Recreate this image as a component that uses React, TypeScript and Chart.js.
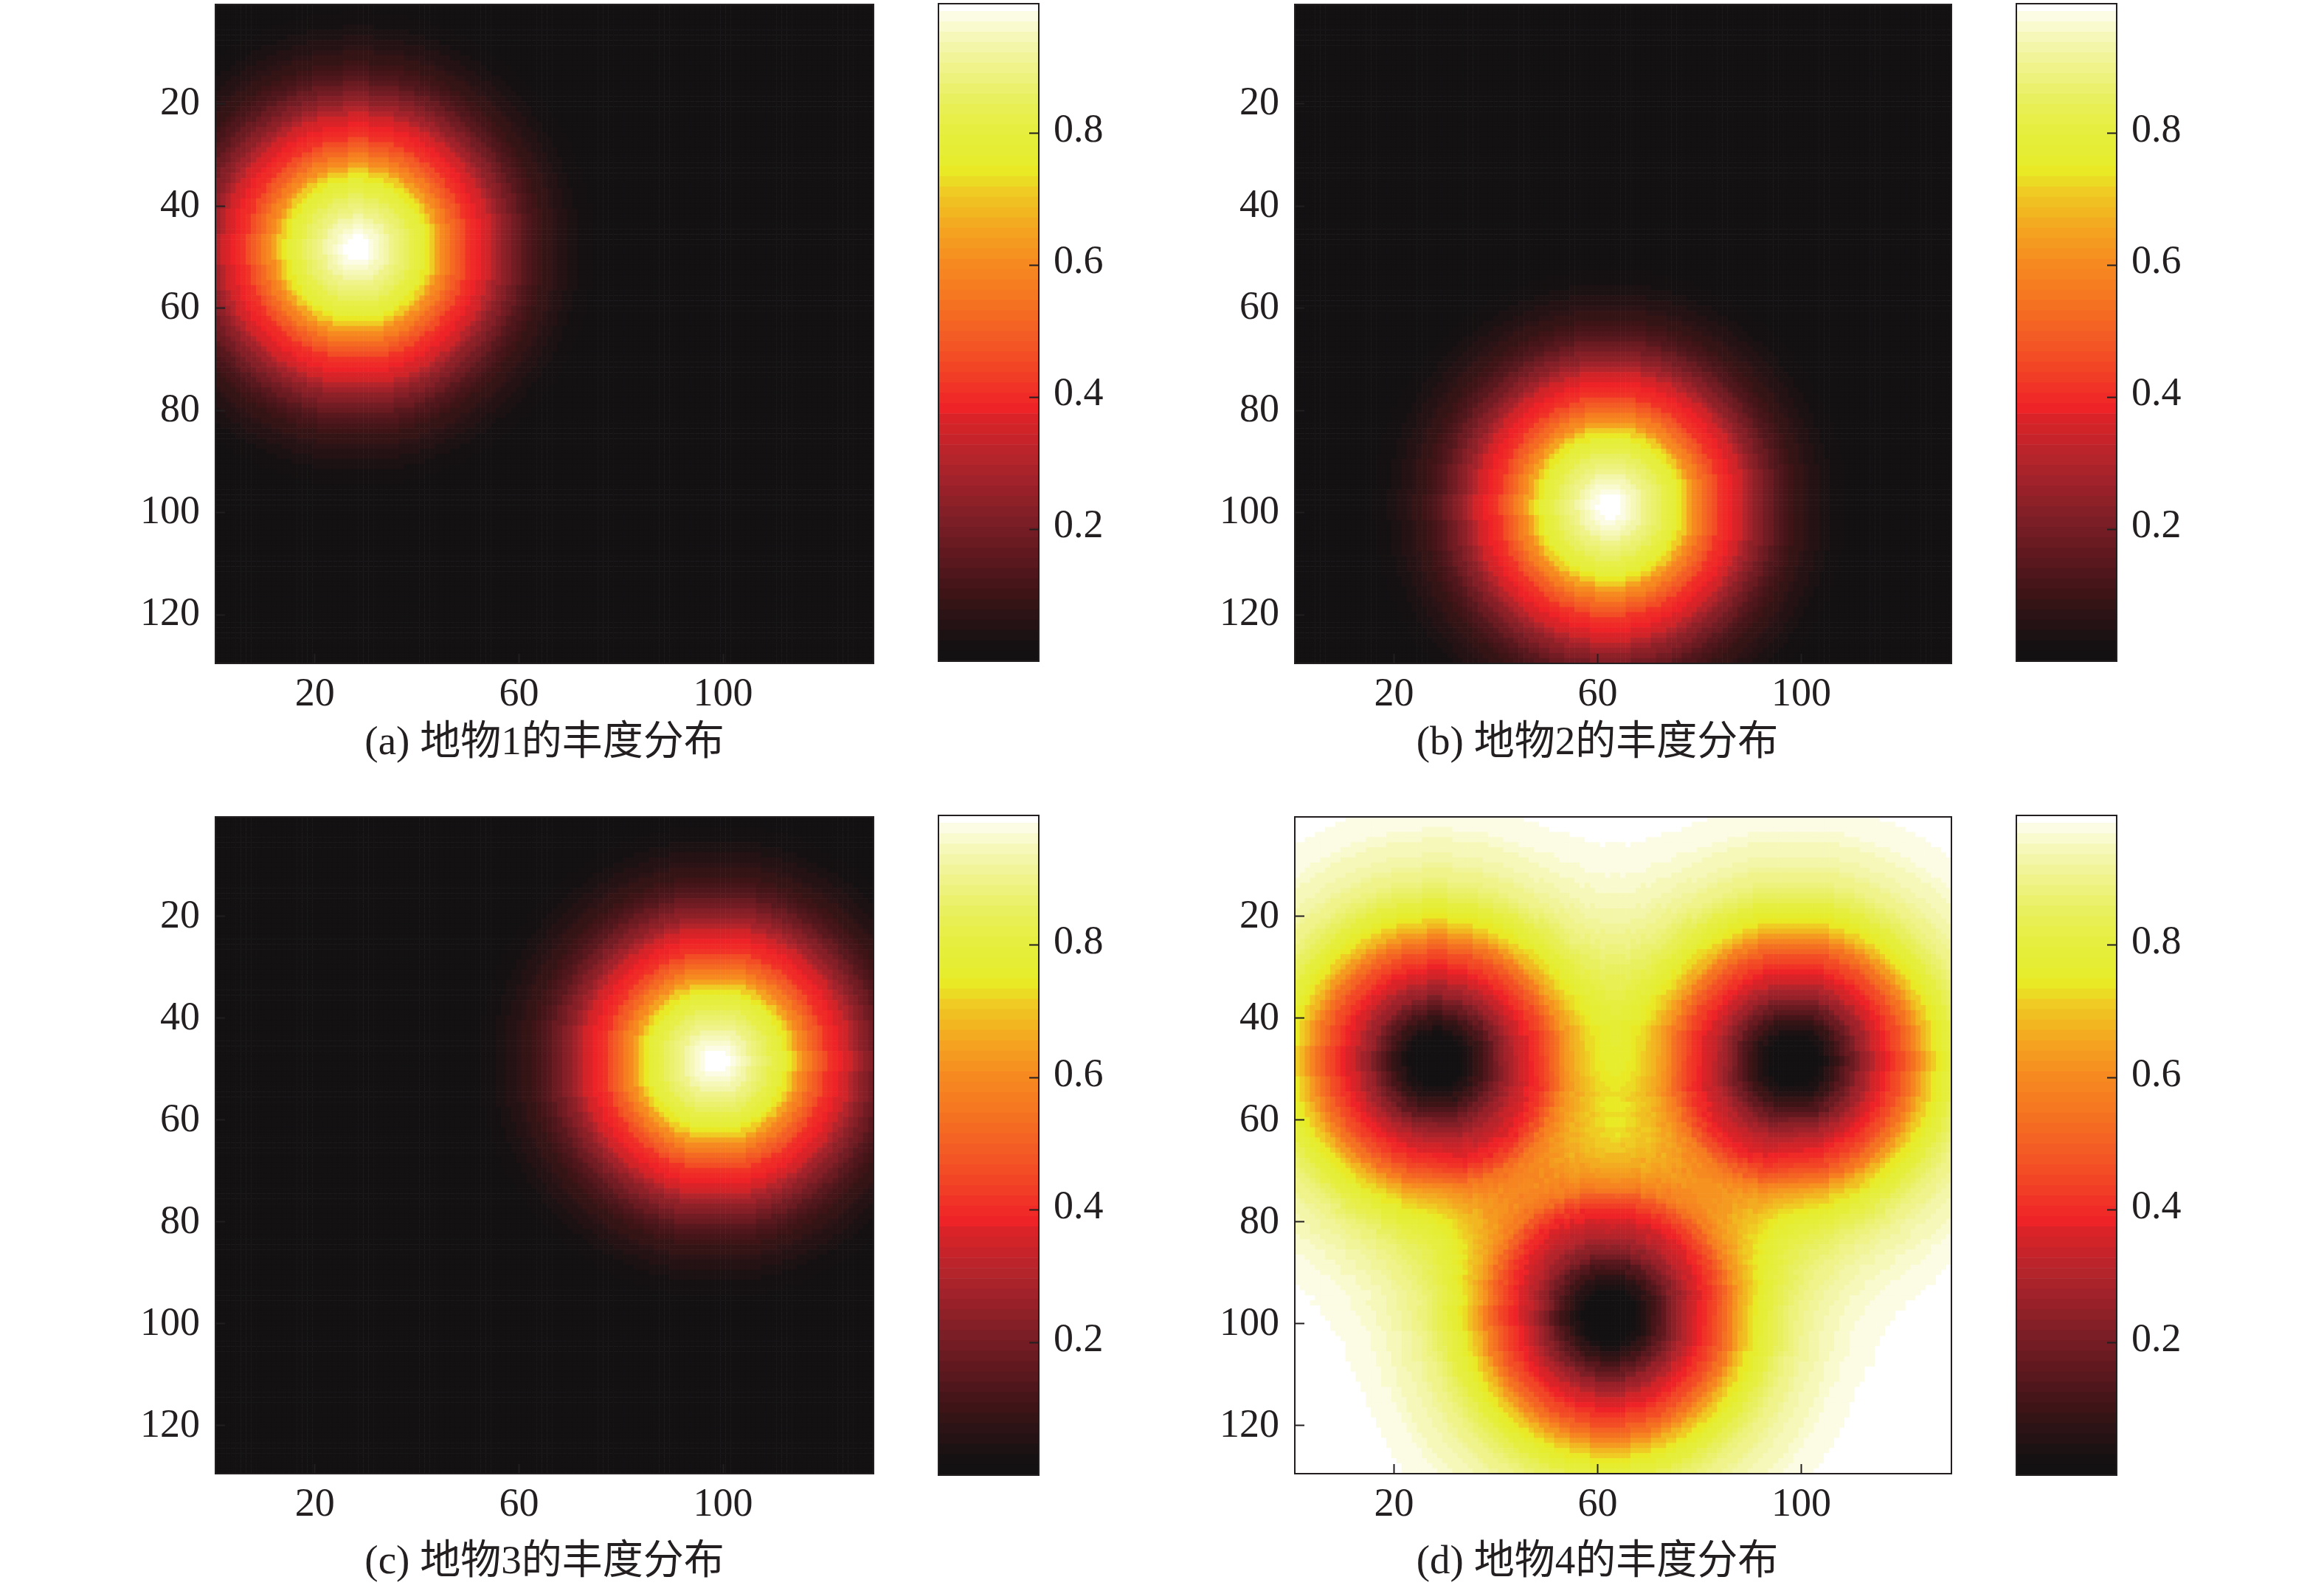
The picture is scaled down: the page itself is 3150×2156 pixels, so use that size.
import React, { useEffect, useRef } from "react";
import { Chart, registerables } from "chart.js";

Chart.register(...registerables);

// ---- data ----
const gridSize = 129;
const axisTicksY = [20, 40, 60, 80, 100, 120];
const axisTicksX = [20, 60, 100];
const colorbarTicks = [0.2, 0.4, 0.6, 0.8];
const captions = ["(a) 地物1的丰度分布", "(b) 地物2的丰度分布", "(c) 地物3的丰度分布", "(d) 地物4的丰度分布"];

// Blob centres (a), (b), (c), in image cells [column, row].
const centre1 = [28.3, 48.4];
const centre2 = [62.4, 98.8];
const centre3 = [98.6, 48.5];

// Abundance read along a radius of a blob in panel (a), one entry per cell of distance.
const radialAbundance = [
  1.0, 1.0, 0.995, 0.98, 0.965, 0.945, 0.925, 0.905, 0.885, 0.865,
  0.845, 0.825, 0.805, 0.785, 0.745, 0.71, 0.65, 0.605, 0.57, 0.525,
  0.49, 0.455, 0.42, 0.395, 0.375, 0.36, 0.345, 0.31, 0.28, 0.245,
  0.22, 0.195, 0.175, 0.155, 0.14, 0.12, 0.105, 0.09, 0.08, 0.07,
  0.06, 0.05, 0.045, 0.035, 0.03, 0.025, 0.02, 0.015, 0.012, 0.01,
  0.008, 0.006, 0.004, 0.003, 0.002, 0.001,
];

// Depth of a hole in panel (d), read along a radius, one entry per cell of distance.
const radialHoleDepth = [
  1.0, 1.0, 1.0, 0.998, 0.995, 0.98, 0.955, 0.935, 0.91, 0.885,
  0.855, 0.825, 0.785, 0.75, 0.72, 0.69, 0.655, 0.63, 0.61, 0.585,
  0.56, 0.535, 0.5, 0.46, 0.42, 0.36, 0.32, 0.29, 0.26, 0.235,
  0.21, 0.19, 0.17, 0.15, 0.135, 0.12, 0.105, 0.095, 0.085, 0.075,
  0.068, 0.06, 0.053, 0.047, 0.041, 0.036, 0.031, 0.027, 0.023, 0.02,
  0.017, 0.015, 0.013, 0.011, 0.009, 0.008, 0.007, 0.006, 0.005, 0.004,
  0.003, 0.003, 0.002, 0.002, 0.001,
];

// The 64 colours of the colour bar, bottom to top.
const colorLevels = [
  "#131112", "#151112", "#1c1213", "#241214", "#2c1315", "#351416", "#3e1417", "#461519",
  "#4f171b", "#58181d", "#61191f", "#6a1b21", "#731c23", "#7c1e25", "#851f27", "#8e2028",
  "#982129", "#a1222a", "#aa232b", "#b3242b", "#bc242b", "#c6242a", "#d02429", "#da2328",
  "#ee2327", "#ef2a27", "#f03326", "#f13c26", "#f24526", "#f24d25", "#f35524", "#f35c24",
  "#f46323", "#f56a22", "#f57122", "#f67821", "#f67e21", "#f68420", "#f68a20", "#f69220",
  "#f59a20", "#f5a220", "#f3ac21", "#f2b621", "#f0c022", "#efcb23", "#ecdb24", "#e9ea25",
  "#e6ed2e", "#e5ee34", "#e5ee38", "#e6ee3f", "#e7ef48", "#e8ef53", "#e9f060", "#ebf16d",
  "#edf27c", "#eff38a", "#f1f498", "#f3f6a8", "#f6f8ba", "#f9face", "#fcfce4", "#ffffff",
];

// ---- layout ----
const INK = "#231f20";
const FONT = '"Liberation Serif", "Noto Sans CJK SC", serif';
const FONT_SIZE = 54;
const TITLE_SIZE = 55;
const TITLE_H = TITLE_SIZE * 1.2;

const columns = [
  { plotL: 292, plotR: 1184, titleX: 738, regionL: 170, barL: 1272, barR: 1408 },
  { plotL: 1755, plotR: 2645, titleX: 2165, regionL: 1645, barL: 2733, barR: 2869 },
];
const rows = [
  { top: 0, plotT: 6, plotB: 899, titleY: 1008, labelOffset: 0, barT: 5, barB: 896 },
  { top: 1095, plotT: 1107, plotB: 1997, titleY: 2118, labelOffset: 1, barT: 1105, barB: 1999 },
];

// ---- values for each cell, looked up from the radial readings ----
function lookup(table: number[], x: number, y: number, c: number[]) {
  const r = Math.round(Math.hypot(x - c[0], y - c[1]));
  return r < table.length ? table[r] : 0;
}
function cells(value: (x: number, y: number) => number) {
  const points: { x: number; y: number }[] = [];
  const colors: string[] = [];
  for (let y = 1; y <= gridSize; y++) {
    for (let x = 1; x <= gridSize; x++) {
      points.push({ x, y });
      const v = Math.max(0, Math.min(1, value(x, y)));
      colors.push(colorLevels[Math.min(colorLevels.length - 1, Math.floor(v * colorLevels.length))]);
    }
  }
  return { points, colors };
}
const panelValues = [
  (x: number, y: number) => lookup(radialAbundance, x, y, centre1),
  (x: number, y: number) => lookup(radialAbundance, x, y, centre2),
  (x: number, y: number) => lookup(radialAbundance, x, y, centre3),
  (x: number, y: number) =>
    1 -
    lookup(radialHoleDepth, x, y, centre1) -
    lookup(radialHoleDepth, x, y, centre2) -
    lookup(radialHoleDepth, x, y, centre3),
];

const framePlugin = {
  id: "frame",
  afterDraw(chart: any) {
    const { ctx, chartArea: a } = chart;
    ctx.save();
    ctx.strokeStyle = INK;
    ctx.lineWidth = 2;
    ctx.strokeRect(a.left, a.top, a.right - a.left, a.bottom - a.top);
    ctx.restore();
  },
};

const tickGrid = { drawOnChartArea: false, drawTicks: true, tickLength: -13, tickWidth: 2, color: INK, z: 1 };
const noMargins = (s: any) => {
  s.paddingTop = 0;
  s.paddingBottom = 0;
  s.paddingLeft = 0;
  s.paddingRight = 0;
};

function Panel({ index }: { index: number }) {
  const ref = useRef<HTMLCanvasElement>(null);
  const col = columns[index % 2];
  const row = rows[index >> 1];
  const regionR = 2 * col.titleX - col.regionL;
  const width = regionR - col.regionL;
  const boxBottom = Math.round(row.titleY + TITLE_H / 2);
  const height = boxBottom - row.top;
  useEffect(() => {
    const { points, colors } = cells(panelValues[index]);
    const chart = new Chart(ref.current!, {
      type: "scatter",
      data: {
        datasets: [
          {
            data: points,
            pointStyle: "rect",
            pointRadius: 5.3,
            pointBorderWidth: 0,
            pointBackgroundColor: colors,
            showLine: false,
            xAxisID: "x",
            yAxisID: "y",
          } as any,
        ],
      },
      options: {
        responsive: false,
        animation: false,
        parsing: false,
        normalized: true,
        events: [],
        layout: { padding: { left: 0, right: 0, top: row.plotT - row.top, bottom: 0 } },
        plugins: {
          legend: { display: false },
          tooltip: { enabled: false },
          title: {
            display: true,
            text: captions[index],
            position: "bottom",
            color: INK,
            padding: 0,
            font: { family: FONT, size: TITLE_SIZE, weight: "normal", lineHeight: 1.2 },
          },
        },
        scales: {
          x: {
            type: "linear",
            min: 0.5,
            max: gridSize + 0.5,
            position: "bottom",
            grid: tickGrid,
            border: { display: false },
            afterBuildTicks: (s: any) => { s.ticks = axisTicksX.map((value) => ({ value })); },
            afterFit: (s: any) => { s.height = row.titleY - TITLE_H / 2 - row.plotB; noMargins(s); },
            ticks: { color: INK, font: { family: FONT, size: FONT_SIZE }, padding: 23, maxRotation: 0, autoSkip: false },
          },
          y: {
            type: "linear",
            reverse: true,
            min: 0.5,
            max: gridSize + 0.5,
            grid: tickGrid,
            border: { display: false },
            afterBuildTicks: (s: any) => { s.ticks = axisTicksY.map((value) => ({ value })); },
            afterFit: (s: any) => { s.width = col.plotL - col.regionL; noMargins(s); },
            ticks: { color: INK, font: { family: FONT, size: FONT_SIZE }, padding: 34, labelOffset: row.labelOffset, autoSkip: false },
          },
          spacer: {
            type: "linear",
            position: "right",
            grid: { display: false },
            border: { display: false },
            ticks: { display: false },
            afterFit: (s: any) => { s.width = regionR - col.plotR; noMargins(s); },
          },
        },
      } as any,
      plugins: [framePlugin],
    });
    return () => chart.destroy();
  }, []);
  return (
    <canvas
      ref={ref}
      width={width}
      height={height}
      style={{ position: "absolute", left: col.regionL, top: row.top, width, height }}
    />
  );
}

function ColorBar({ index }: { index: number }) {
  const ref = useRef<HTMLCanvasElement>(null);
  const col = columns[index % 2];
  const row = rows[index >> 1];
  const left = col.barL - 4;
  const top = row.barT - 4;
  const width = col.barR + 120 - left;
  const height = row.barB + 40 - top;
  useEffect(() => {
    const chart = new Chart(ref.current!, {
      type: "bar",
      data: {
        labels: [""],
        datasets: colorLevels.map((c) => ({
          data: [1 / colorLevels.length],
          backgroundColor: c,
          borderWidth: 0,
          barPercentage: 1,
          categoryPercentage: 1,
        })),
      },
      options: {
        responsive: false,
        animation: false,
        events: [],
        layout: { padding: { left: col.barL - left, top: row.barT - top, right: 0, bottom: top + height - row.barB } },
        plugins: { legend: { display: false }, tooltip: { enabled: false }, title: { display: false } },
        scales: {
          x: { stacked: true, display: false },
          y: {
            stacked: true,
            position: "right",
            min: 0,
            max: 0.996,
            grid: tickGrid,
            border: { display: false },
            afterBuildTicks: (s: any) => { s.ticks = colorbarTicks.map((value) => ({ value })); },
            afterFit: (s: any) => { s.width = 120; noMargins(s); },
            ticks: {
              color: INK,
              font: { family: FONT, size: FONT_SIZE },
              padding: 33,
              labelOffset: -3,
              autoSkip: false,
              callback: (v: any) => Number(v).toFixed(1),
            },
          },
        },
      } as any,
      plugins: [framePlugin],
    });
    return () => chart.destroy();
  }, []);
  return (
    <canvas
      ref={ref}
      width={width}
      height={height}
      style={{ position: "absolute", left, top, width, height }}
    />
  );
}

export default function App() {
  return (
    <div>
      {[0, 1, 2, 3].map((i) => (
        <React.Fragment key={i}>
          <Panel index={i} />
          <ColorBar index={i} />
        </React.Fragment>
      ))}
    </div>
  );
}
